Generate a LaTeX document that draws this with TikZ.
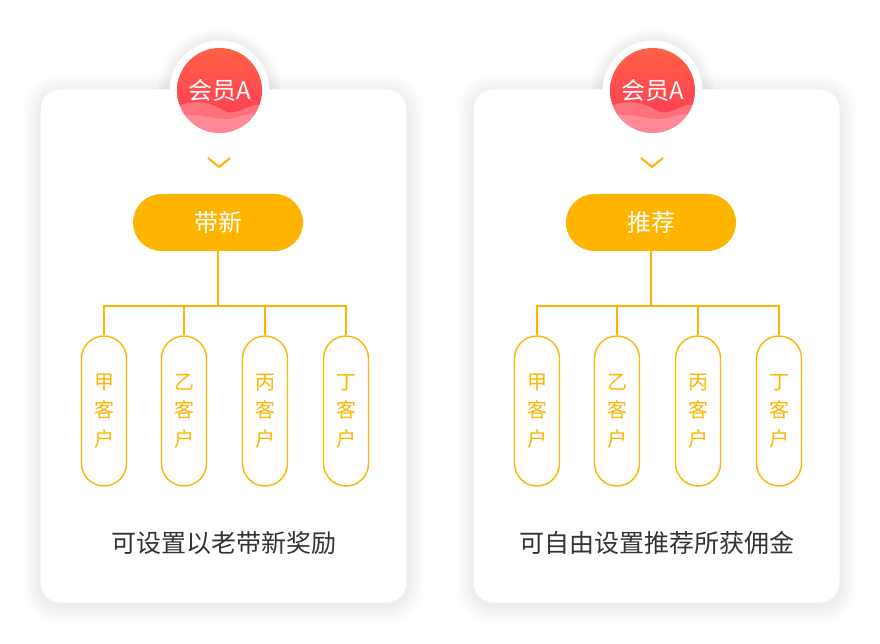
\documentclass[tikz,border=0pt]{standalone}
\usepackage{fontspec}
\newfontfamily\cjk{Noto Sans CJK SC}
\usetikzlibrary{positioning}
\definecolor{gold}{RGB}{255,181,0}
\definecolor{ink}{RGB}{51,51,51}
\definecolor{redtop}{RGB}{255,96,70}
\definecolor{redbot}{RGB}{255,56,86}

\begin{document}
\begin{tikzpicture}[x=1pt,y=-1pt,
    card/.style={fill=white, rounded corners=20pt, minimum width=366pt, minimum height=513pt},
    haze/.style={fill=black, opacity=.0038},
    ring/.style={circle, fill=white, minimum size=100pt, inner sep=0pt},
    disc/.style={circle, minimum size=85pt, inner sep=0pt, top color=redtop, bottom color=redbot},
    wave/.style={fill=white, opacity=.25},
    member/.style={text=white, font=\cjk\fontsize{24}{28}\selectfont},
    head/.style={fill=gold, rounded corners=28.5pt, minimum width=170pt, minimum height=57pt,
      text=white, font=\cjk\fontsize{24}{28}\selectfont},
    cust/.style={draw=gold, line width=1.4pt, rounded corners=22.5pt, minimum width=45pt,
      minimum height=150pt, inner sep=0pt, align=center, text=gold, font=\cjk\fontsize{20}{28.5}\selectfont},
    link/.style={draw=gold, line width=1.4pt},
    chev/.style={draw=gold, line width=2pt},
    note/.style={text=ink, font=\cjk\fontsize{25}{28}\selectfont}]
  \fill[white] (0,0) rectangle (880,644);
  \useasboundingbox (0,0) rectangle (880,644);
  \foreach \s/\x/\lab/\txt in {L/218/带新/可设置以老带新奖励, R/651/推荐/可自由设置推荐所获佣金}{
    % soft shadows
    \foreach \k in {1,...,18}{
      \fill[haze, rounded corners=20+\k] (\x+5.5-183-\k,89.5-\k+3) rectangle (\x+5.5+183+\k,602.5+\k+3);
      \fill[haze] (\x+1.5,90.5) circle (50+\k*.7);
    }
    \node[card] (card\s) at (\x+5.5,346) {};
    \node[ring] (ring\s) at (\x+1.5,90.5) {};
    \node[disc] (disc\s) at (\x+1.5,90.5) {};
    \begin{scope}
      \clip (disc\s.center) circle (42.5);
      \begin{scope}[shift={(disc\s.center)}]
        \fill[wave] (-45,17) .. controls (-28,9) and (-12,10) .. (4,20)
          .. controls (18,28) and (30,10) .. (45,15) -- (45,45) -- (-45,45) -- cycle;
        \fill[wave, opacity=.2] (-45,27) .. controls (-22,19) and (0,34) .. (20,26)
          .. controls (30,22) and (40,24) .. (45,26) -- (45,45) -- (-45,45) -- cycle;
      \end{scope}
    \end{scope}
    \node[member] (member\s) at (disc\s) {会员A};
    \coordinate (tip\s) at (\x+1,167);
    \draw[chev] (tip\s) ++(-11,-9) -- (tip\s) -- ++(11,-9);
    \node[head] (head\s) at (\x,222.5) {\lab};
    \coordinate (bus\s) at (\x,306);
    \draw[link] (head\s) -- (bus\s);
    \foreach \i/\n/\dx in {1/甲/-114, 2/乙/-34, 3/丙/47, 4/丁/128}{
      \node[cust] (cust\s-\i) at (\x+\dx,411) {\n\\客\\户};
      \draw[link] (bus\s) -| (cust\s-\i.north);
    }
    \node[note] (note\s) at (\x+6,543) {\txt};
  }
\end{tikzpicture}
\end{document}
